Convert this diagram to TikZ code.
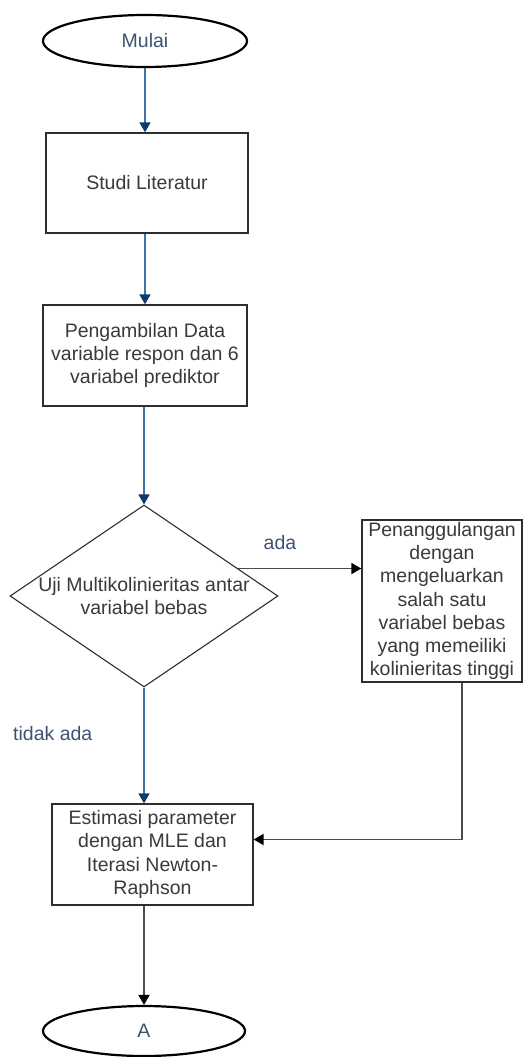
\documentclass[tikz,border=0pt]{standalone}
\usepackage{fontspec}
\setmainfont{Liberation Sans}
\usetikzlibrary{shapes.geometric,arrows.meta,calc}
\definecolor{txt}{HTML}{3A3A3A}
\definecolor{lbl}{HTML}{3D5373}
\definecolor{bline}{HTML}{4272A4}
\definecolor{bhead}{HTML}{0E3B6C}
\definecolor{kline}{HTML}{4D4D4D}
\definecolor{brd}{HTML}{2E2E2E}
\begin{document}
\begin{tikzpicture}[x=1pt,y=-1pt,
  every node/.style={font=\fontsize{19.5}{23.3}\selectfont, text=txt, align=center, inner sep=0pt},
  term/.style={ellipse, draw=black, line width=2.2pt, minimum width=204pt, minimum height=52pt, text=lbl},
  procbox/.style={rectangle, draw=brd, line width=1.3pt},
  decide/.style={diamond, draw=brd, line width=1.1pt, minimum width=268pt, minimum height=182pt, aspect=1.47},
  bluearrow/.style={draw=bline, line width=1.5pt, -{Triangle[length=10pt,width=11pt,color=bhead]}},
  blackarrow/.style={draw=kline, line width=1.8pt, -{Triangle[length=10pt,width=11pt,color=black]}},
  blackline/.style={draw=kline, line width=1.8pt},
  lab/.style={text=lbl}
]
\useasboundingbox (0,0) rectangle (526,1057);
\fill[white] (0,0) rectangle (526,1057);

\node[term] (mulai) at (145,41) {Mulai};
\node[procbox, minimum width=202pt, minimum height=100pt] (studi) at (147,183) {Studi Literatur};
\node[procbox, minimum width=204pt, minimum height=101pt] (data) at (145,355.5) {Pengambilan Data\\variable respon dan 6\\variabel prediktor};
\node[decide, inner sep=0pt] (uji) at (144,596) {};
\node (ujitext) at (144,596) {Uji Multikolinieritas antar\\variabel bebas};
\node[procbox, minimum width=160pt, minimum height=162pt] (tang) at (442,601) {Penanggulangan\\dengan\\mengeluarkan\\salah satu\\variabel bebas\\yang memeiliki\\kolinieritas tinggi};
\node[procbox, minimum width=201pt, minimum height=101pt] (est) at (152.5,854.5) {Estimasi parameter\\dengan MLE dan\\Iterasi Newton-\\Raphson};
\node[term, minimum width=202pt, minimum height=50pt] (a) at (144,1031) {A};

\node[lab] (ada) at (280,543) {ada};
\node[lab, anchor=west] (tidak) at (13,734) {tidak ada};

\draw[bluearrow] (mulai.south) -- (mulai.south |- studi.north);
\draw[bluearrow] (studi.south -| mulai.south) -- (mulai.south |- data.north);
\draw[bluearrow] (data.south -| uji.north) -- (uji.north);
\draw[bluearrow] (uji.south) -- (uji.south |- est.north);
\draw[blackarrow] ($(uji.east)!0.3!(uji.north)$) coordinate (p) -- (p -| tang.west);
\draw[blackarrow] ($(tang.south)+(20,0)$) |- ($(est.east)+(0,-15)$);
\draw[blackarrow] (est.south -| a.north) -- (a.north);
\end{tikzpicture}
\end{document}
